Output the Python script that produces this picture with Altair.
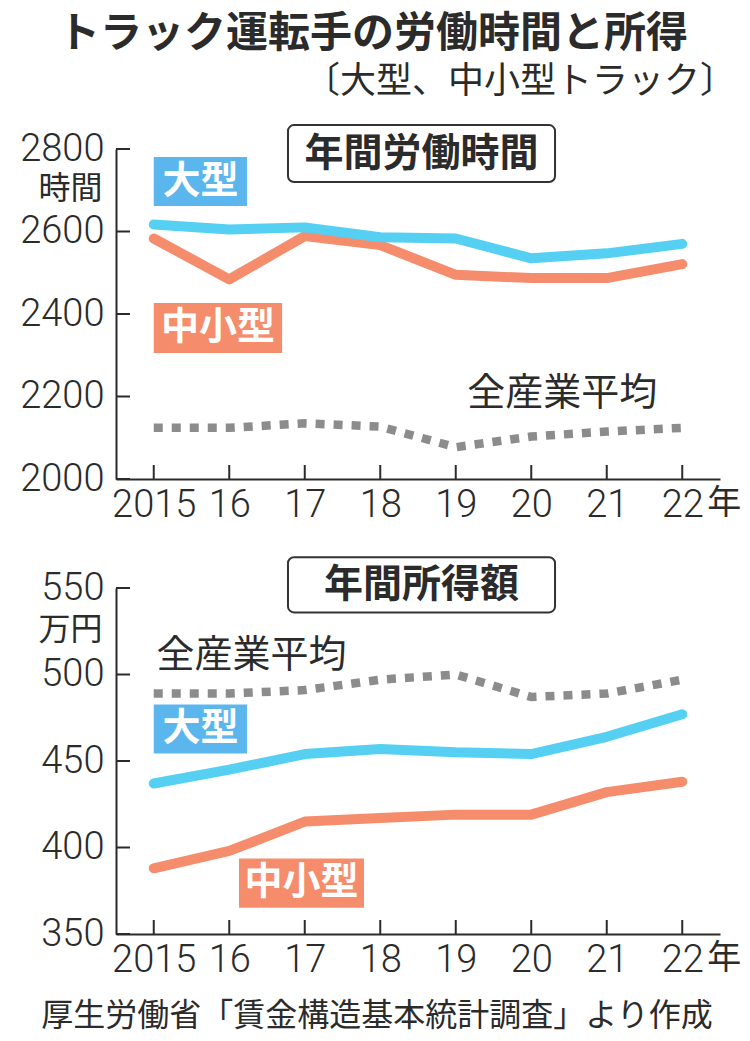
import altair as alt
import pandas as pd

# ---------------- data ----------------
years = [2015, 2016, 2017, 2018, 2019, 2020, 2021, 2022]

hours_large = [2617, 2605, 2610, 2586, 2583, 2535, 2547, 2570]
hours_small = [2583, 2484, 2589, 2567, 2495, 2487, 2487, 2521]
hours_all = [2124, 2124, 2135, 2127, 2077, 2103, 2115, 2124]

income_large = [437, 445, 454, 457, 455, 454, 464, 477]
income_small = [388, 398, 415, 417, 419, 419, 432, 438]
income_all = [489, 489, 491, 497, 500, 487, 489, 497]

hours_ticks = [2000, 2200, 2400, 2600, 2800]
income_ticks = [350, 400, 450, 500, 550]

TITLE = "トラック運転手の労働時間と所得"
SUBTITLE = "〔大型、中小型トラック〕"
SOURCE = "厚生労働省「賃金構造基本統計調査」より作成"
LARGE = "大型"
SMALL = "中小型"
ALL = "全産業平均"
YEAR_SUFFIX = "年"
panel_titles = ["年間労働時間", "年間所得額"]
units = ["時間", "万円"]

# ---------------- style ----------------
JP = "Noto Sans CJK JP"
NUM = "Roboto"
DARK = "#2b2b2b"
BLUE_LINE = "#55D0F3"
BLUE_BOX = "#5CB6EE"
ORANGE = "#F58D6C"
GRAY = "#8C8C8C"
W = 604

x_scale = alt.Scale(domain=[2014.5, 2022.5], nice=False, zero=False)
x_axis = alt.Axis(
    values=years,
    labelExpr="datum.value == 2015 ? '2015' : substring(toString(datum.value), 2, 4)",
    ticks=False, tickSize=0, grid=False, title=None,
    labelFont=NUM, labelFontSize=38, labelFontWeight=300, labelColor=DARK,
    labelPadding=7, labelOverlap=False, labelFlush=False,
    domainColor=DARK, domainWidth=2,
)


def make_panel(large, small, allv, ticks, domain, height, unit, unit_y,
               boxes, all_pos, title_box, extra):
    y_scale = alt.Scale(domain=domain, nice=False, zero=False)
    y_axis = alt.Axis(
        values=ticks, format="d", ticks=False, tickSize=0, grid=False,
        title=unit, titleAngle=0, titleAlign="right", titleBaseline="middle",
        titleX=-14, titleY=unit_y, titleFont=JP, titleFontSize=32,
        titleFontWeight="normal", titleColor=DARK,
        labelFont=NUM, labelFontSize=38, labelFontWeight=300, labelColor=DARK,
        labelPadding=12, labelOverlap=False, labelFlush=False,
        domainColor=DARK, domainWidth=2,
    )

    def X(f):
        return alt.X(f + ":Q", scale=x_scale, axis=x_axis)

    def Y(f):
        return alt.Y(f + ":Q", scale=y_scale, axis=y_axis)

    df = pd.DataFrame({"year": years, "large": large, "small": small, "all": allv})
    base = alt.Chart(df)
    gray = base.mark_line(color=GRAY, strokeWidth=8.5, strokeDash=[9, 9],
                          strokeCap="butt").encode(x=X("year"), y=Y("all"))
    orange = base.mark_line(color=ORANGE, strokeWidth=10, strokeCap="round",
                            strokeJoin="round").encode(x=X("year"), y=Y("small"))
    blue = base.mark_line(color=BLUE_LINE, strokeWidth=10, strokeCap="round",
                          strokeJoin="round").encode(x=X("year"), y=Y("large"))

    xticks = alt.Chart(pd.DataFrame({"year": years})).mark_rule(
        color=DARK, strokeWidth=2).encode(
        x=X("year"), y=alt.value(height), y2=alt.value(height - 14))
    yticks = alt.Chart(pd.DataFrame({"v": ticks})).mark_rule(
        color=DARK, strokeWidth=2).encode(
        y=Y("v"), x=alt.value(0), x2=alt.value(14))

    ann = pd.DataFrame(boxes)
    rects = alt.Chart(ann).mark_rect().encode(
        x=X("x1"), x2="x2", y=Y("y1"), y2="y2",
        color=alt.Color("fill:N", scale=None))
    rtext = alt.Chart(ann).mark_text(
        font=JP, fontSize=38, fontWeight="bold", color="white",
        align="center", baseline="middle").encode(
        x=X("xc"), y=Y("yc"), text="label:N")

    alltxt = alt.Chart(pd.DataFrame([all_pos])).mark_text(
        font=JP, fontSize=38, color=DARK, align="center", baseline="middle"
    ).encode(x=X("xc"), y=Y("yc"), text="label:N")

    tb = pd.DataFrame([title_box])
    tbox = alt.Chart(tb).mark_rect(
        fill="white", stroke="#333333", strokeWidth=2, cornerRadius=6).encode(
        x=X("x1"), x2="x2", y=Y("y1"), y2="y2")
    ttext = alt.Chart(tb).mark_text(
        font=JP, fontSize=39, fontWeight="bold", color=DARK,
        align="center", baseline="middle").encode(
        x=X("xc"), y=Y("yc"), text="label:N")

    nen = alt.Chart(pd.DataFrame({"year": [years[-1]], "t": [YEAR_SUFFIX]})).mark_text(
        font=JP, fontSize=34, color=DARK, align="center", baseline="middle", dx=42
    ).encode(x=X("year"), y=alt.value(height + 25), text="t:N")

    layers = [xticks, yticks, gray, orange, blue, rects, rtext, alltxt,
              tbox, ttext, nen] + extra
    return alt.layer(*layers).properties(width=W, height=height)


# annotations (data coordinates)
top_boxes = [
    {"x1": 2015.0, "x2": 2016.235, "y1": 2780.6, "y2": 2661.8,
     "xc": 2015.62, "yc": 2721, "label": LARGE, "fill": BLUE_BOX},
    {"x1": 2015.0, "x2": 2016.70, "y1": 2426.7, "y2": 2305.5,
     "xc": 2015.85, "yc": 2366, "label": SMALL, "fill": ORANGE},
]
top_all = {"xc": 2020.41, "yc": 2207, "label": ALL}
top_title = {"x1": 2016.778, "x2": 2020.315, "y1": 2858, "y2": 2720,
             "xc": 2018.546, "yc": 2789, "label": panel_titles[0]}

bot_boxes = [
    {"x1": 2015.0, "x2": 2016.235, "y1": 482.7, "y2": 454.3,
     "xc": 2015.62, "yc": 468.5, "label": LARGE, "fill": BLUE_BOX},
    {"x1": 2016.129, "x2": 2017.785, "y1": 393.6, "y2": 365.2,
     "xc": 2016.957, "yc": 379.4, "label": SMALL, "fill": ORANGE},
]
bot_all = {"xc": 2016.295, "yc": 510.8, "label": ALL}
bot_title = {"x1": 2016.778, "x2": 2020.315, "y1": 567.8, "y2": 535.9,
             "xc": 2018.546, "yc": 551.9, "label": panel_titles[1]}

title_layer = alt.Chart(pd.DataFrame({"t": [TITLE]})).mark_text(
    font=JP, fontSize=42, fontWeight="bold", color=DARK,
    align="center", baseline="middle").encode(
    x=alt.value(257), y=alt.value(-115), text="t:N")
subtitle_layer = alt.Chart(pd.DataFrame({"t": [SUBTITLE]})).mark_text(
    font=JP, fontSize=36, color=DARK, align="right", baseline="middle").encode(
    x=alt.value(620), y=alt.value(-67), text="t:N")
source_layer = alt.Chart(pd.DataFrame({"t": [SOURCE]})).mark_text(
    font=JP, fontSize=32, color=DARK, align="center", baseline="middle").encode(
    x=alt.value(261), y=alt.value(428), text="t:N")

p1 = make_panel(hours_large, hours_small, hours_all, hours_ticks, [2000, 2800],
                330, units[0], 39, top_boxes, top_all, top_title,
                [title_layer, subtitle_layer])
p2 = make_panel(income_large, income_small, income_all, income_ticks, [350, 550],
                346, units[1], 41, bot_boxes, bot_all, bot_title,
                [source_layer])

chart = alt.vconcat(p1, p2, spacing=32).properties(
    padding={"left": 19, "top": 13, "right": 5, "bottom": 5},
    background="white",
).configure_view(stroke=None)

chart.save("out.html", embed_options={"renderer": "svg", "actions": False})
